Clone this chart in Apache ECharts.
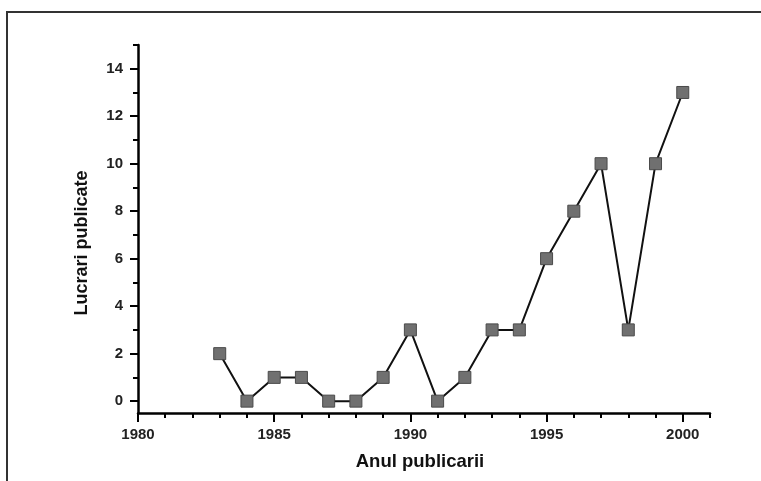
<!DOCTYPE html>
<html>
<head>
<meta charset="utf-8">
<script src="https://cdn.jsdelivr.net/npm/echarts@6/dist/echarts.min.js"></script>
<style>
html,body{margin:0;padding:0;background:#fff;}
#frame{position:absolute;left:6px;top:11px;width:755px;height:470px;border-top:2px solid #333;border-left:2px solid #333;box-sizing:border-box;}
#chart{position:absolute;left:0;top:0;width:761px;height:481px;}
</style>
</head>
<body>
<div id="frame"></div>
<div id="chart"></div>
<script>
const years = [1983,1984,1985,1986,1987,1988,1989,1990,1991,1992,1993,1994,1995,1996,1997,1998,1999,2000];
const papers = [2,0,1,1,0,0,1,3,0,1,3,3,6,8,10,3,10,13];
const xMajorTicks = [1980,1985,1990,1995,2000];
const xMinorTicks = [1980,1981,1982,1983,1984,1985,1986,1987,1988,1989,1990,1991,1992,1993,1994,1995,1996,1997,1998,1999,2000,2001];
const yMajorTicks = [0,2,4,6,8,10,12,14];
const yMinorTicks = [0,1,2,3,4,5,6,7,8,9,10,11,12,13,14,15];
const xTitle = 'Anul publicarii';
const yTitle = 'Lucrari publicate';

const font = 'Liberation Sans, Arial, sans-serif';
const chart = echarts.init(document.getElementById('chart'));
const axisLineStyle = {color:'#000', width:2.5};
const labelStyle = {fontFamily:font, fontWeight:'bold', fontSize:15, color:'#222'};
chart.setOption({
  animation:false,
  grid:{left:138, top:45, right:51, bottom:68, containLabel:false},
  graphic:[
    {type:'text', x:420, y:462, style:{text:xTitle, x:0, y:0, align:'center', verticalAlign:'middle', font:'bold 18.5px ' + font, fill:'#111'}},
    {type:'text', x:82, y:243, rotation:Math.PI/2, style:{text:yTitle, x:0, y:0, align:'center', verticalAlign:'middle', font:'bold 18px ' + font, fill:'#111'}}
  ],
  xAxis:[{
    type:'value', min:1980, max:2001,
    axisLine:{show:true, onZero:false, lineStyle:axisLineStyle},
    axisTick:{show:true, length:5, lineStyle:{color:'#000', width:2}, customValues:xMinorTicks},
    axisLabel:Object.assign({show:true, customValues:xMajorTicks, margin:14, formatter:v=>String(v)}, labelStyle),
    splitLine:{show:false}
  },{
    type:'value', min:1980, max:2001, position:'bottom',
    axisLine:{show:false, onZero:false},
    axisTick:{show:true, length:9, lineStyle:{color:'#000', width:2}, customValues:xMajorTicks},
    axisLabel:{show:false},
    splitLine:{show:false}
  }],
  yAxis:[{
    type:'value', min:-0.5, max:15,
    axisLine:{show:true, onZero:false, lineStyle:axisLineStyle},
    axisTick:{show:true, length:5, lineStyle:{color:'#000', width:2}, customValues:yMinorTicks},
    axisLabel:Object.assign({show:true, customValues:yMajorTicks, margin:15, formatter:v=>String(v)}, labelStyle),
    splitLine:{show:false}
  },{
    type:'value', min:-0.5, max:15, position:'left',
    axisLine:{show:false, onZero:false},
    axisTick:{show:true, length:8, lineStyle:{color:'#000', width:2}, customValues:yMajorTicks},
    axisLabel:{show:false},
    splitLine:{show:false}
  }],
  series:[{
    type:'line',
    data: years.map((y,i)=>[y, papers[i]]),
    symbol:'rect', symbolSize:12,
    itemStyle:{color:'#707070', borderColor:'#4a4a4a', borderWidth:1},
    lineStyle:{color:'#111', width:2},
    z:3
  }]
});
</script>
</body>
</html>
